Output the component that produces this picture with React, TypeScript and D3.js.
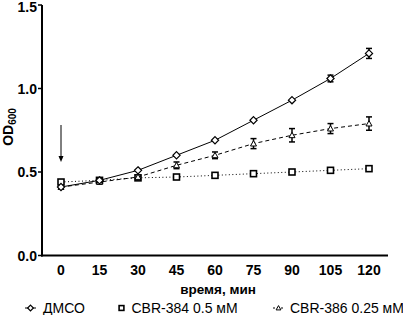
import React from "react";
import * as d3 from "d3";

const times = [0, 15, 30, 45, 60, 75, 90, 105, 120];
const dmso = [0.41, 0.45, 0.51, 0.6, 0.69, 0.81, 0.93, 1.06, 1.21];
const dmsoErr = [0.01, 0.01, 0.01, 0.01, 0.01, 0.01, 0.01, 0.02, 0.03];
const cbr384 = [0.44, 0.45, 0.465, 0.47, 0.48, 0.49, 0.5, 0.51, 0.52];
const cbr384Err = [0, 0, 0, 0, 0, 0, 0, 0, 0];
const cbr386 = [0.41, 0.44, 0.47, 0.54, 0.6, 0.67, 0.72, 0.76, 0.79];
const cbr386Err = [0.01, 0.01, 0.01, 0.02, 0.02, 0.03, 0.04, 0.03, 0.04];
const yTicks = [0.0, 0.5, 1.0, 1.5];
const legendLabels = ["ДМСО", "CBR-384 0.5 мМ", "CBR-386 0.25 мМ"];

const W = 403, H = 315;
const x = d3.scaleLinear().domain([0, 120]).range([61, 369]);
const y = d3.scaleLinear().domain([0, 1.5]).range([255.5, 5]);
const font = "'Liberation Sans', Arial, sans-serif";

function Marker({ kind, cx, cy, small }: { kind: string; cx: number; cy: number; small?: boolean }) {
  const k = small ? 0.8 : 1;
  if (kind === "diamond") {
    const s = 3.6 * k;
    return <path d={`M${cx},${cy - s}L${cx + s},${cy}L${cx},${cy + s}L${cx - s},${cy}Z`} fill="white" stroke="black" strokeWidth={1.2} />;
  }
  if (kind === "square") {
    const s = 3 * k;
    return <rect x={cx - s} y={cy - s} width={2 * s} height={2 * s} fill="white" stroke="black" strokeWidth={1.6} />;
  }
  const s = 3 * k;
  return <path d={`M${cx},${cy - s}L${cx + s},${cy + s * 0.8}L${cx - s},${cy + s * 0.8}Z`} fill="white" stroke="black" strokeWidth={1} />;
}

const series = [
  { vals: cbr384, err: cbr384Err, dash: "1,2.5", kind: "square" },
  { vals: cbr386, err: cbr386Err, dash: "4,3", kind: "triangle" },
  { vals: dmso, err: dmsoErr, dash: "", kind: "diamond" },
];

export default function App() {
  const line = d3.line<number>().x((_, i) => x(times[i])).y((d) => y(d));
  const ly = 308;
  return (
    <svg width={W} height={H} style={{ position: "absolute", left: 0, top: 0, background: "white" }} fontFamily={font}>
      <rect width={W} height={H} fill="white" />
      {/* axes */}
      <line x1={42} x2={42} y1={y(1.5)} y2={y(0) + 1} stroke="black" strokeWidth={2} />
      <line x1={41} x2={388} y1={y(0)} y2={y(0)} stroke="black" strokeWidth={2} />
      {yTicks.map((t) => (
        <g key={t}>
          <line x1={38} x2={42} y1={y(t)} y2={y(t)} stroke="black" strokeWidth={1.5} />
          <text x={37} y={y(t) + (t === 1.5 ? 2 : 0)} dy="0.36em" textAnchor="end" fontSize={14} fontWeight="bold">{d3.format(".1f")(t)}</text>
        </g>
      ))}
      {times.map((t) => (
        <text key={t} x={x(t)} y={275} textAnchor="middle" fontSize={14} fontWeight="bold">{t}</text>
      ))}
      <text x={218} y={294} textAnchor="middle" fontSize={13.5} fontWeight="bold">время, мин</text>
      <text transform={`translate(13,127) rotate(-90)`} textAnchor="middle" fontSize={14} fontWeight="bold">
        OD<tspan fontSize={10} dy={3}>600</tspan>
      </text>
      {/* arrow */}
      <line x1={x(0)} x2={x(0)} y1={125} y2={158} stroke="black" strokeWidth={1} />
      <path d={`M${x(0) - 2.5},${156}L${x(0) + 2.5},${156}L${x(0)},${162}Z`} fill="black" />
      {series.map((s, si) => (
        <g key={si}>
          <path d={line(s.vals) || ""} fill="none" stroke="black" strokeWidth={1} strokeDasharray={s.dash} />
          {s.vals.map((v, i) =>
            s.err[i] > 0.012 ? (
              <g key={i} stroke="black" strokeWidth={1.5}>
                <line x1={x(times[i])} x2={x(times[i])} y1={y(v + s.err[i])} y2={y(v - s.err[i])} />
                <line x1={x(times[i]) - 3} x2={x(times[i]) + 3} y1={y(v + s.err[i])} y2={y(v + s.err[i])} />
                <line x1={x(times[i]) - 3} x2={x(times[i]) + 3} y1={y(v - s.err[i])} y2={y(v - s.err[i])} />
              </g>
            ) : null
          )}
          {s.vals.map((v, i) => (
            <Marker key={i} kind={s.kind} cx={x(times[i])} cy={y(v)} />
          ))}
        </g>
      ))}
      {/* legend */}
      <g fontSize={14}>
        <line x1={25} x2={36} y1={ly} y2={ly} stroke="black" strokeWidth={1} />
        <Marker kind="diamond" cx={30.5} cy={ly} small />
        <text x={43} y={ly + 4.5}>{legendLabels[0]}</text>
        <Marker kind="square" cx={121.5} cy={ly} small />
        <text x={131.5} y={ly + 4.5}>{legendLabels[1]}</text>
        <line x1={273} x2={284} y1={ly} y2={ly} stroke="black" strokeWidth={1} strokeDasharray="2,2" />
        <Marker kind="triangle" cx={278.5} cy={ly} small />
        <text x={290} y={ly + 4.5}>{legendLabels[2]}</text>
      </g>
    </svg>
  );
}
